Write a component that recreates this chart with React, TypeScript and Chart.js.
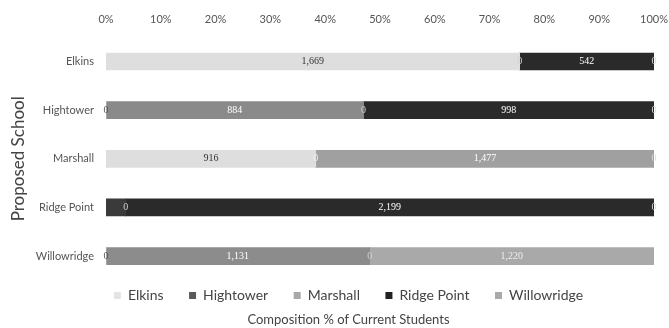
import React, { useEffect, useRef } from "react";
import { Chart, registerables } from "chart.js";

Chart.register(...registerables);

const categories = ["Elkins", "Hightower", "Marshall", "Ridge Point", "Willowridge"];
const seriesNames = ["Elkins", "Hightower", "Marshall", "Ridge Point", "Willowridge"];

const elkinsValues = [1669, 0, 916, null, 0];
const hightowerValues = [null, 884, 0, 82, 1131];
const marshallValues = [0, 0, 1477, 0, 0];
const ridgePointValues = [542, 998, null, 2199, null];
const willowridgeValues = [0, 0, 0, 0, 1220];

const xTicks = [0, 10, 20, 30, 40, 50, 60, 70, 80, 90, 100];

const rawSeries: (number | null)[][] = [
  elkinsValues,
  hightowerValues,
  marshallValues,
  ridgePointValues,
  willowridgeValues,
];

const barColors: (string | string[])[] = [
  "#dedede",
  ["#8a8a8a", "#8a8a8a", "#8a8a8a", "#3a3a3a", "#8c8c8c"],
  "#a0a0a0",
  "#2a2a2a",
  "#a9a9a9",
];
const legendSwatch = ["#e4e4e4", "#5a5a5a", "#a8a8a8", "#222222", "#aaaaaa"];
const labelColors = ["#333333", "#ffffff", "#ffffff", "#ffffff", "#eeeeee"];
const zeroLabelColors = ["#555555", "#f0f0f0", "#d0d0d0", "#f0f0f0", "#dddddd"];

const totals = categories.map((_, j) =>
  rawSeries.reduce((s, arr) => s + (arr[j] ?? 0), 0)
);

const dataLabelPlugin = {
  id: "dataLabels",
  afterDatasetsDraw(chart: any) {
    const ctx = chart.ctx;
    ctx.save();
    ctx.font = "10px 'Liberation Serif'";
    ctx.textAlign = "center";
    ctx.textBaseline = "middle";
    chart.data.datasets.forEach((_: any, i: number) => {
      const meta = chart.getDatasetMeta(i);
      meta.data.forEach((el: any, j: number) => {
        const raw = rawSeries[i][j];
        if (raw === null || raw === undefined) return;
        const { x, base, y } = el.getProps(["x", "base", "y"], true);
        if (raw > 0 && Math.abs(x - base) < 30) return;
        ctx.fillStyle = raw === 0 ? zeroLabelColors[i] : labelColors[i];
        ctx.fillText(raw.toLocaleString("en-US"), (x + base) / 2, y);
      });
    });
    ctx.restore();
  },
};

export default function App() {
  const canvasRef = useRef<HTMLCanvasElement | null>(null);

  useEffect(() => {
    if (!canvasRef.current) return;
    const chart = new Chart(canvasRef.current, {
      type: "bar",
      data: {
        labels: categories,
        datasets: seriesNames.map((name, i) => ({
          label: name,
          data: rawSeries[i].map((v, j) => (v === null ? null : (v / totals[j]) * 100)),
          backgroundColor: barColors[i] as any,
          borderWidth: 0,
          barThickness: 17,
        })),
      },
      options: {
        animation: false,
        responsive: false,
        indexAxis: "y",
        layout: { padding: { top: 2, left: 0, right: 0, bottom: 0 } },
        scales: {
          x: {
            position: "top",
            stacked: true,
            min: 0,
            max: 100,
            afterBuildTicks: (s: any) => {
              s.ticks = xTicks.map((v) => ({ value: v }));
            },
            ticks: {
              padding: 11,
              color: "#555",
              font: { family: "Lato", size: 11 },
              callback: (v: any) => v + "%",
            },
            grid: { display: false, drawTicks: false },
            border: { display: false },
          },
          y: {
            stacked: true,
            afterFit: (s: any) => {
              s.width = 106;
            },
            ticks: {
              padding: 12,
              color: "#555",
              font: { family: "Lato", size: 11 },
            },
            grid: { display: false, drawTicks: false },
            border: { display: false },
            title: {
              display: true,
              text: "Proposed School",
              color: "#444",
              font: { family: "Lato", size: 17 },
              padding: { top: 8, bottom: 0 },
            },
          },
          yRight: {
            type: "category",
            position: "right",
            display: true,
            afterFit: (s: any) => {
              s.width = 43;
            },
            ticks: { display: false },
            grid: { display: false, drawTicks: false },
            border: { display: false },
          },
        },
        plugins: {
          tooltip: { enabled: false },
          legend: {
            position: "bottom",
            labels: {
              boxWidth: 7,
              boxHeight: 7,
              padding: 8,
              color: "#444",
              font: { family: "Lato", size: 14 },
              generateLabels: (c: any) =>
                c.data.datasets.map((ds: any, i: number) => ({
                  text: ds.label + (i < c.data.datasets.length - 1 ? "\u2003\u2002" : ""),
                  fillStyle: legendSwatch[i],
                  strokeStyle: legendSwatch[i],
                  lineWidth: 0,
                  hidden: false,
                  datasetIndex: i,
                  fontColor: "#444",
                })),
            },
          },
          title: {
            display: true,
            position: "bottom",
            text: "Composition % of Current Students",
            color: "#444",
            font: { family: "Lato", size: 13, weight: "normal" },
            padding: { top: 0, bottom: 0 },
          },
        },
      },
      plugins: [dataLabelPlugin],
    } as any);
    return () => chart.destroy();
  }, []);

  return (
    <div
      style={{
        position: "fixed",
        left: 0,
        top: 0,
        width: 669,
        height: 328,
        overflow: "hidden",
        background: "#fff",
      }}
    >
      <canvas ref={canvasRef} width={697} height={328} style={{ width: 697, height: 328 }} />
    </div>
  );
}
